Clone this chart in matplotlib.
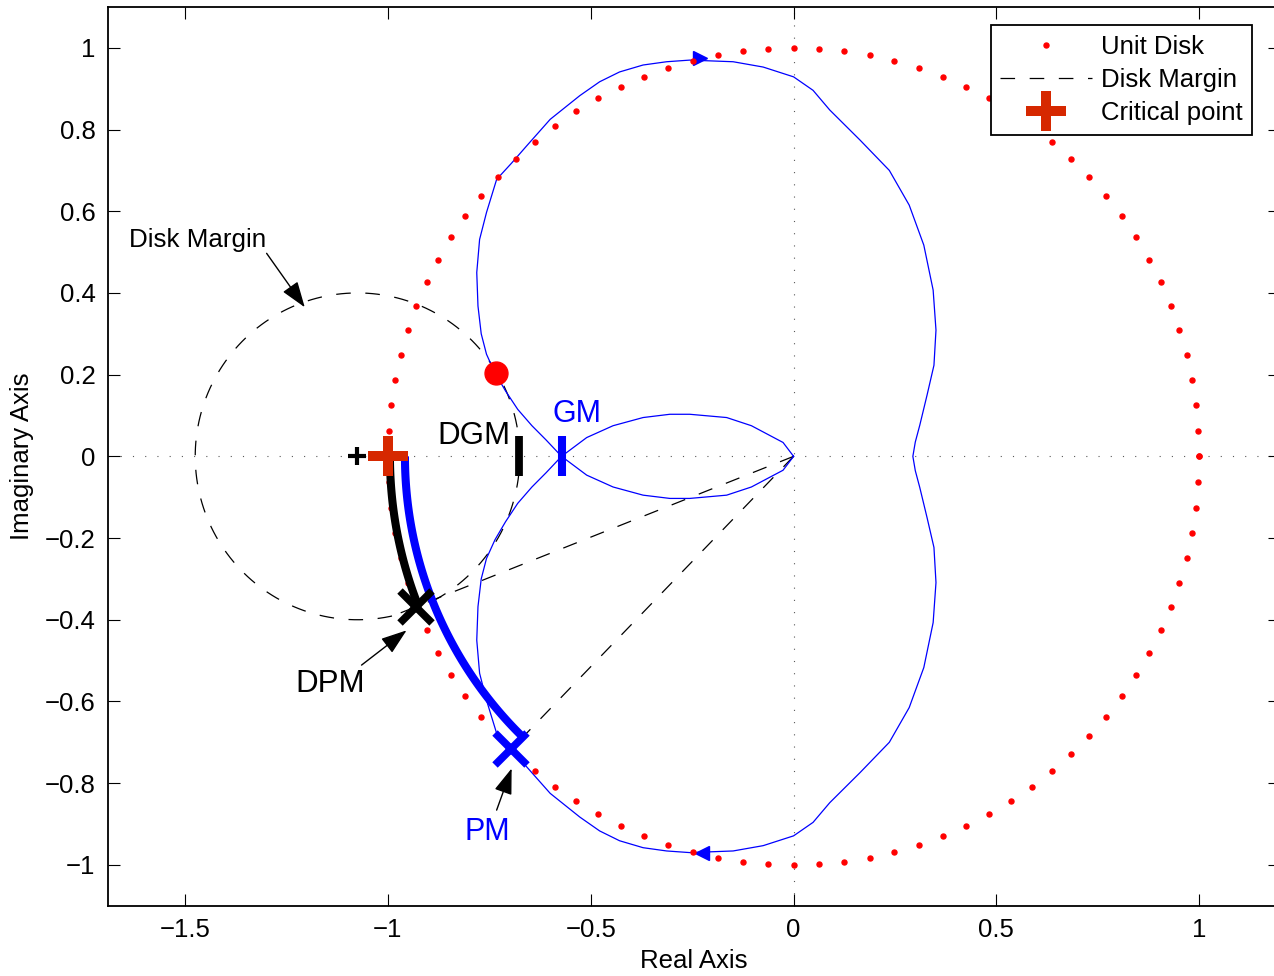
import numpy as np
import matplotlib.pyplot as plt
from matplotlib.lines import Line2D

plt.rcParams["font.family"] = ["Liberation Sans", "DejaVu Sans"]
plt.rcParams["lines.scale_dashes"] = False

# Nyquist branch: origin -> lower lobe -> GM crossing
# -> upper left -> top -> right side (the other branch is its mirror image)
nyq_re = [0.0, -0.026, -0.104, -0.165, -0.256, -0.305, -0.371, -0.445, -0.510, -0.572,
          -0.610, -0.645, -0.680, -0.710, -0.736, -0.757, -0.770, -0.778, -0.781, -0.774,
          -0.757, -0.732, -0.695, -0.658, -0.600, -0.527, -0.478, -0.429, -0.371, -0.313,
          -0.256, -0.149, -0.075, 0.0, 0.048, 0.089, 0.164, 0.236, 0.285, 0.321,
          0.344, 0.351, 0.346, 0.329, 0.311, 0.300, 0.294]
nyq_im = [0.0, -0.034, -0.075, -0.095, -0.103, -0.103, -0.095, -0.075, -0.046, 0.0,
          0.040, 0.075, 0.115, 0.160, 0.204, 0.250, 0.300, 0.368, 0.450, 0.531,
          0.597, 0.678, 0.718, 0.760, 0.825, 0.883, 0.917, 0.941, 0.958, 0.966,
          0.970, 0.966, 0.953, 0.929, 0.896, 0.848, 0.774, 0.700, 0.615, 0.517,
          0.407, 0.309, 0.223, 0.150, 0.076, 0.035, 0.0]

# direction arrows on the curve
arrow_top = (-0.231, 0.974)
arrow_bot = (-0.227, -0.970)

unit_disk_n = 100
disk_center = (-1.075, 0.0)
disk_radius = 0.40

critical_point = (-1.0, 0.0)
disk_touch = (-0.733, 0.203)
pm_point = (-0.697, -0.717)
dpm_point = (-0.930, -0.368)
pm_deg = 45.8
dpm_deg = 21.6
pm_arc_r = 0.958
dpm_arc_r = 0.995
gm_re = -0.572
dgm_re = -0.676
bar_half = 0.049
pm_ray_end = (-0.738, -0.760)
dpm_ray_end = (-0.986, -0.390)

fig = plt.figure(figsize=(12.74, 9.76), dpi=100)
ax = fig.add_axes([108 / 1274, 70.3 / 976, 1172.4 / 1274, 898.7 / 976])

# zero lines (dotted)
ax.axhline(0, color="0.35", lw=0.8, ls=(0, (0.8, 8)), zorder=1)
ax.axvline(0, color="0.35", lw=0.8, ls=(0, (0.8, 8)), zorder=1)

# disk margin circle
t = np.linspace(0, 2 * np.pi, 400)
ax.plot(disk_center[0] + disk_radius * np.cos(t), disk_center[1] + disk_radius * np.sin(t),
        color="k", lw=0.9, ls=(0, (10.5, 10.5)), zorder=2)

# dashed rays from origin
for end in (pm_ray_end, dpm_ray_end):
    ax.plot([0, end[0]], [0, end[1]], color="k", lw=0.9, ls=(0, (10.5, 10.5)), zorder=2)

# nyquist curve
re = np.array(nyq_re)
im = np.array(nyq_im)
full_re = np.concatenate([re, re[::-1]])
full_im = np.concatenate([im, -im[::-1]])
ax.plot(full_re, full_im, color="blue", lw=0.9, zorder=3)
ax.plot(*arrow_top, marker=">", ms=10, color="blue", ls="none", zorder=3)
ax.plot(*arrow_bot, marker="<", ms=10, color="blue", ls="none", zorder=3)

# unit disk dots
th = np.linspace(0, 2 * np.pi, unit_disk_n + 1)
ax.plot(np.cos(th), np.sin(th), ls="none", marker="o", ms=3.6, color="red", zorder=4)

# margin arcs
a = np.deg2rad(np.linspace(180, 180 + dpm_deg, 50))
ax.plot(dpm_arc_r * np.cos(a), dpm_arc_r * np.sin(a), color="k", lw=5.8,
        solid_capstyle="butt", zorder=5)
a = np.deg2rad(np.linspace(180, 180 + pm_deg, 80))
ax.plot(pm_arc_r * np.cos(a), pm_arc_r * np.sin(a), color="blue", lw=5.8,
        solid_capstyle="butt", zorder=5)

# GM / DGM bars
ax.plot([gm_re, gm_re], [-bar_half, bar_half], color="blue", lw=5.8, solid_capstyle="butt", zorder=5)
ax.plot([dgm_re, dgm_re], [-bar_half, bar_half], color="k", lw=5.6, solid_capstyle="butt", zorder=5)

# markers
ax.plot(*disk_center, marker="+", ms=12.5, mew=3, color="k", zorder=6)
ax.plot(*critical_point, marker="+", ms=29, mew=7.2, color="#D62800", zorder=7)
ax.plot(*disk_touch, marker="o", ms=16.5, color="red", zorder=6)
ax.plot(*dpm_point, marker="x", ms=23, mew=5.5, color="k", zorder=6)
ax.plot(*pm_point, marker="x", ms=23, mew=5.5, color="blue", zorder=6)

# labels
ax.text(-1.638, 0.513, "Disk Margin", fontsize=18.7, va="baseline", ha="left")
ax.text(-0.879, 0.031, "DGM", fontsize=22.5, va="baseline", ha="left")
ax.text(-0.594, 0.0845, "GM", fontsize=22, va="baseline", ha="left", color="blue")
ax.text(-1.227, -0.5765, "DPM", fontsize=22.5, va="baseline", ha="left")
ax.text(-0.810, -0.9395, "PM", fontsize=22, va="baseline", ha="left", color="blue")

arrow_kw = dict(arrowstyle="-|>,head_length=0.8,head_width=0.28", color="k", lw=1,
                mutation_scale=20, shrinkA=0, shrinkB=0)
ax.annotate("", xy=(-1.205, 0.365), xytext=(-1.299, 0.497), arrowprops=arrow_kw, zorder=8)
ax.annotate("", xy=(-0.954, -0.426), xytext=(-1.065, -0.511), arrowprops=arrow_kw, zorder=8)
ax.annotate("", xy=(-0.695, -0.764), xytext=(-0.732, -0.866), arrowprops=arrow_kw, zorder=8)

ax.set_xlim(-1.69, 1.2)
ax.set_ylim(-1.1, 1.1)
xt = [-1.5, -1, -0.5, 0, 0.5, 1]
yt = [-1, -0.8, -0.6, -0.4, -0.2, 0, 0.2, 0.4, 0.6, 0.8, 1]
ax.set_xticks(xt)
ax.set_yticks(yt)
ax.set_xticklabels([f"{v:g}".replace("-", "\u2212") for v in xt])
ax.set_yticklabels([f"{v:g}".replace("-", "\u2212") for v in yt])
ax.tick_params(direction="in", length=8.5, width=0.8, top=True, right=True,
               labelsize=18.5, pad=9)
for s in ax.spines.values():
    s.set_linewidth(1.3)
ax.set_xlabel("Real Axis", fontsize=18.5, labelpad=5)
ax.set_ylabel("Imaginary Axis", fontsize=18.5, labelpad=8)

handles = [
    Line2D([], [], ls="none", marker="o", ms=3.6, color="red"),
    Line2D([], [], color="k", lw=0.9, ls=(0, (10.5, 10.5))),
    Line2D([], [], ls="none", marker="+", ms=29, mew=7.2, color="#D62800"),
]
leg = ax.legend(handles, ["Unit Disk", "Disk Margin", "Critical point"],
                loc="upper right", bbox_to_anchor=(1252 / 1274, 1 - 25 / 976),
                bbox_transform=fig.transFigure, borderaxespad=0, fontsize=18.5,
                fancybox=False, framealpha=1, edgecolor="k", handlelength=3.55,
                handletextpad=0.35, labelspacing=0.36, borderpad=0.38)
leg.get_frame().set_linewidth(1.3)

fig.savefig("out.png", dpi=100)
